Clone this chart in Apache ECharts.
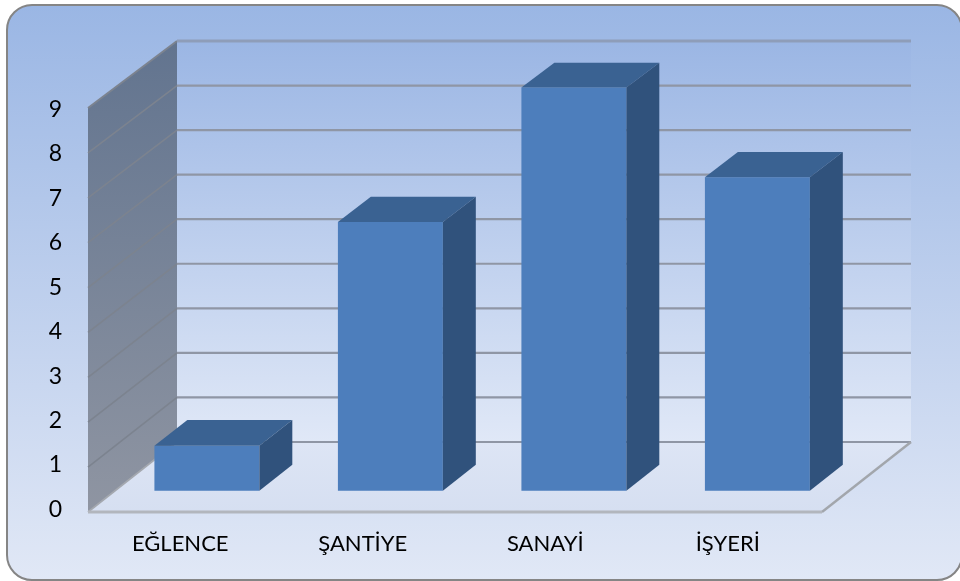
<!DOCTYPE html>
<html>
<head>
<meta charset="utf-8">
<style>html,body{margin:0;padding:0;background:#fff}#c{width:960px;height:581px;filter:blur(0.5px)}</style>
<script src="https://cdn.jsdelivr.net/npm/echarts@6/dist/echarts.min.js"></script>
</head>
<body>
<div id="c"></div>
<script>
var categories = ['EĞLENCE', 'ŞANTİYE', 'SANAYİ', 'İŞYERİ'];
var values = [1, 6, 9, 7];
var yTicks = [0, 1, 2, 3, 4, 5, 6, 7, 8, 9];

var LG = echarts.graphic.LinearGradient;
var DX = 89, DY = -70, SHRINK = 0.9926;
var BAR_FRONT = 0.305, BAR_BACK = 0.675, BAR_W = 0.572;
function grad(a, b, horizontal) {
  return new LG(0, 0, horizontal ? 1 : 0, horizontal ? 0 : 1, [{offset: 0, color: a}, {offset: 1, color: b}]);
}
// Oblique projection: x is a pixel on the front plane, v an axis value, d the depth 0..1
function project(api, x, v, d) {
  var y0 = api.coord([0, 0])[1];
  var y = api.coord([0, v])[1];
  var s = 1 - (1 - SHRINK) * d;
  return [x + DX * d, y0 + DY * d + (y - y0) * s];
}
function poly(points, fill) {
  return {type: 'polygon', shape: {points: points}, style: {fill: fill}};
}
function seg(a, b, color, w) {
  return {type: 'line', shape: {x1: a[0], y1: a[1], x2: b[0], y2: b[1]}, style: {stroke: color, lineWidth: w, fill: null}};
}

function renderShell(params, api) {
  var r = params.coordSys, L = r.x, R = r.x + r.width;
  var top = yTicks[yTicks.length - 1];
  return {type: 'group', children: [
    poly([project(api, L, 0, 1), project(api, R, 0, 1), project(api, R, top, 1), project(api, L, top, 1)], grad('#9bb6e4', '#e0e8f7')),
    poly([project(api, L, 0, 0), project(api, R, 0, 0), project(api, R, 0, 1), project(api, L, 0, 1)], grad('#dde5f5', '#d6dff1')),
    poly([project(api, L, 0, 0), project(api, L, 0, 1), project(api, L, top, 1), project(api, L, top, 0)], grad('#62748f', '#8f95a2'))
  ]};
}
function renderGrid(params, api) {
  var r = params.coordSys, L = r.x, R = r.x + r.width, v = api.value(0);
  var isTop = v === yTicks[yTicks.length - 1];
  var kids = [
    seg(project(api, L, v, 0), project(api, L, v, 1), v === 0 ? '#a4a8af' : '#7c838f', isTop ? 2 : 1.6),
    seg(project(api, L, v, 1), project(api, R, v, 1), isTop ? '#8e9db9' : '#8f96a5', isTop ? 3.2 : 2.2)
  ];
  if (v === 0) {
    kids.push(seg(project(api, R, 0, 0), project(api, R, 0, 1), '#a2a6ac', 2.4));
    kids.push(seg(project(api, L, 0, 0), project(api, R, 0, 0), '#b2b6bd', 3));
  }
  return {type: 'group', children: kids};
}
function renderBar(params, api) {
  var c = api.coord([api.value(0), 0]);
  var v = api.value(1);
  var w = api.size([1, 0])[0] * BAR_W;
  var x0 = c[0] - w / 2, x1 = c[0] + w / 2;
  var a = project(api, x0, 0, BAR_FRONT), b = project(api, x1, 0, BAR_FRONT);
  var at = project(api, x0, v, BAR_FRONT), bt = project(api, x1, v, BAR_FRONT);
  var b2 = project(api, x1, 0, BAR_BACK), bt2 = project(api, x1, v, BAR_BACK), at2 = project(api, x0, v, BAR_BACK);
  return {type: 'group', children: [
    poly([a, b, bt, at], '#4d7ebc'),
    poly([at, bt, bt2, at2], '#3a6292'),
    poly([b, b2, bt2, bt], '#30527c')
  ]};
}

var chart = echarts.init(document.getElementById('c'), null, {renderer: 'canvas'});
var font = 'Lato, Carlito, sans-serif';
chart.setOption({
  animation: false,
  graphic: [{
    type: 'rect', z: -10, silent: true,
    shape: {x: 7, y: 5, width: 955, height: 575, r: 25},
    style: {fill: grad('#9ab6e4', '#e1e8f6'), stroke: '#858585', lineWidth: 2}
  }],
  grid: [
    {left: 88, width: 734, top: 108, height: 404},
    {left: 89, width: 730, top: 109.5, height: 400}
  ],
  xAxis: [
    {gridIndex: 0, type: 'category', data: categories, show: false},
    {gridIndex: 1, type: 'category', data: categories,
     axisLine: {show: false}, axisTick: {show: false},
     axisLabel: {color: '#000', fontFamily: font, fontSize: 22, margin: 23}}
  ],
  yAxis: [
    {gridIndex: 0, type: 'value', min: 0, max: 9, interval: 1, show: false, splitLine: {show: false}},
    {gridIndex: 1, type: 'value', min: 0, max: 9, interval: 1,
     axisLine: {show: false}, axisTick: {show: false}, splitLine: {show: false},
     axisLabel: {color: '#000', fontFamily: font, fontSize: 23, margin: 27}}
  ],
  series: [
    {type: 'custom', xAxisIndex: 0, yAxisIndex: 0, z: 1, silent: true, renderItem: renderShell, data: [[0]]},
    {type: 'custom', xAxisIndex: 0, yAxisIndex: 0, z: 2, silent: true, renderItem: renderGrid,
     encode: {y: 0}, data: yTicks.map(function (t) { return [t]; })},
    {type: 'custom', xAxisIndex: 0, yAxisIndex: 0, z: 3, silent: true, renderItem: renderBar,
     encode: {x: 0, y: 1}, data: values.map(function (v, i) { return [i, v]; })},
    {type: 'bar', xAxisIndex: 1, yAxisIndex: 1, data: [], silent: true}
  ]
});
</script>
</body>
</html>
